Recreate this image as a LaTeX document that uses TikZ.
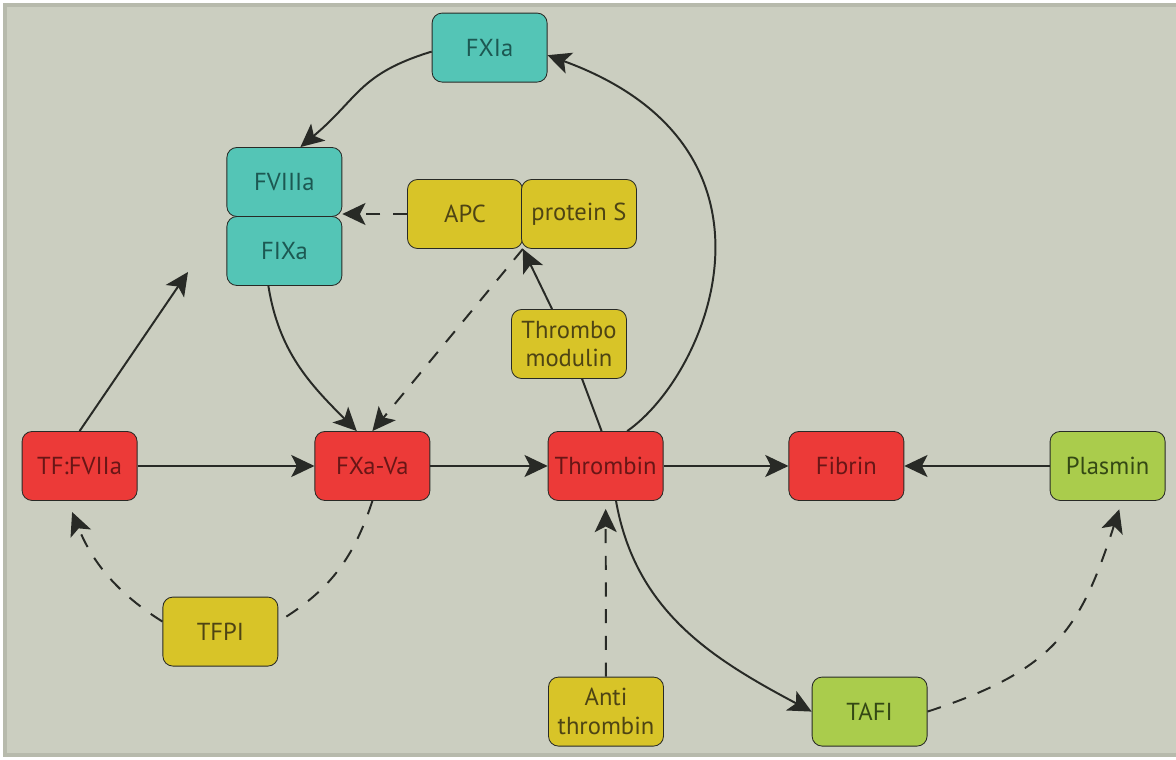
\documentclass[tikz,border=0pt]{standalone}
\usepackage{fontspec}
\setmainfont{PT Sans}
\usepackage{xcolor}
\usepackage{tikz}
\usetikzlibrary{arrows.meta,calc,positioning}
\definecolor{bgGray}{RGB}{203,206,192}
\definecolor{edgeGray}{RGB}{183,186,172}
\definecolor{lineDark}{RGB}{40,42,38}
\definecolor{boxRed}{RGB}{236,58,56}
\definecolor{boxTeal}{RGB}{84,197,182}
\definecolor{boxYellow}{RGB}{216,196,40}
\definecolor{boxGreen}{RGB}{170,204,76}
\definecolor{txtRed}{RGB}{105,22,22}
\definecolor{txtTeal}{RGB}{28,88,82}
\definecolor{txtYellow}{RGB}{78,68,20}
\definecolor{txtGreen}{RGB}{52,72,20}
\tikzset{box node/.style={rectangle,rounded corners=0.25cm,draw=lineDark,line width=0.6pt,
   minimum width=2.875cm,minimum height=1.725cm,inner sep=1pt,align=center,
   font=\fontsize{17.5}{20.5}\selectfont},
red node/.style={box node,fill=boxRed,text=txtRed},
teal node/.style={box node,fill=boxTeal,text=txtTeal},
yellow node/.style={box node,fill=boxYellow,text=txtYellow},
green node/.style={box node,fill=boxGreen,text=txtGreen},
%dashed connectors for inhibition
inhibit/.style={dash pattern=on 10pt off 9pt}}
\begin{document}
\begin{tikzpicture}[-,auto,thick,line width=1.4pt,color=lineDark,
                    >={Stealth[length=0.58cm,width=0.55cm,inset=0.14cm]}]

%BACKGROUND
  \useasboundingbox (0,0) rectangle (29.4,19);
  \fill[white] (0,0) rectangle (29.4,19);
  \filldraw[fill=bgGray,draw=edgeGray,line width=3pt] (0.125,0.125) rectangle (29.7,18.875);

%DRAWING BOXES
  \node[red node] (TFVIIa) at (1.99,7.35) {TF:FVIIa};
  \node[red node] (FXaVa) at (9.31,7.35) {FXa-Va};
  \node[red node] (Thrombin) at (15.14,7.35) {Thrombin};
  \node[red node] (Fibrin) at (21.16,7.35) {Fibrin};
  \node[green node] (Plasmin) at (27.69,7.35) {Plasmin};

  \node[teal node] (FXIa) at (12.24,17.81) {FXIa};
  \node[teal node] (FVIIIa) at (7.11,14.45) {FVIIIa};
  \node[teal node] (FIXa) [below of=FVIIIa,node distance=1.725cm] {FIXa};

  \node[yellow node] (APC) at (11.625,13.65) {APC};
  \node[yellow node] (ProteinS) [right of=APC,node distance=2.85cm] {protein S};
  \node[yellow node] (Thrombomodulin) at (14.225,10.4) {Thrombo\\modulin};
  \node[yellow node] (TFPI) at (5.51,3.21) {TFPI};
  \node[yellow node] (Antithrombin) at (15.15,1.21) {Anti\\thrombin};
  \node[green node] (TAFI) at (21.74,1.21) {TAFI};
  \coordinate (TFArrowEnd) at (4.7,12.2);

%DRAWING MAIN CHAIN
  \path[->]
    (TFVIIa) edge (FXaVa)
    (FXaVa) edge (Thrombin)
    (Thrombin) edge (Fibrin)
    (Plasmin) edge (Fibrin);
  \draw[->] (TFVIIa.north) -- (TFArrowEnd);

%DRAWING FEEDBACK
  \draw[->] ([yshift=-0.1cm]FXIa.west) to[out=197,in=40,looseness=1.2] ([xshift=0.4cm]FVIIIa.north);
  \draw[->] ([xshift=-0.4cm]FIXa.south) to[out=-81,in=135] ([xshift=-0.39cm]FXaVa.north);
  \draw[->] ([xshift=0.54cm]Thrombin.north) .. controls +(2.05,1.43) and +(6.34,-2.31) .. ([yshift=-0.19cm]FXIa.east);
  \draw ([xshift=-0.1cm]Thrombin.north) -- (Thrombomodulin);
  \draw[->] (Thrombomodulin) -- (APC.south east);
  \draw[->] ([xshift=0.26cm]Thrombin.south) to[out=-80,in=152] (TAFI.west);

%DRAWING INHIBITION
  \draw[->,inhibit] (APC.west) -- (APC.west -| FVIIIa.east);
  \draw[->,inhibit] (APC.south east) -- (FXaVa.north);
  \draw[inhibit] (FXaVa.south) to[out=-108,in=31] ([yshift=0.25cm]TFPI.east);
  \draw[->,inhibit,shorten >=0.3cm] ([yshift=0.25cm]TFPI.west) to[out=148,in=-68] ([xshift=-0.3cm]TFVIIa.south);
  \draw[->,inhibit,shorten >=0.2cm] (Antithrombin) -- (Thrombin);
  \draw[->,inhibit,shorten >=0.22cm] (TAFI.east) to[out=18,in=-108,looseness=1.2] ([xshift=0.36cm]Plasmin.south);

\end{tikzpicture}
\end{document}
